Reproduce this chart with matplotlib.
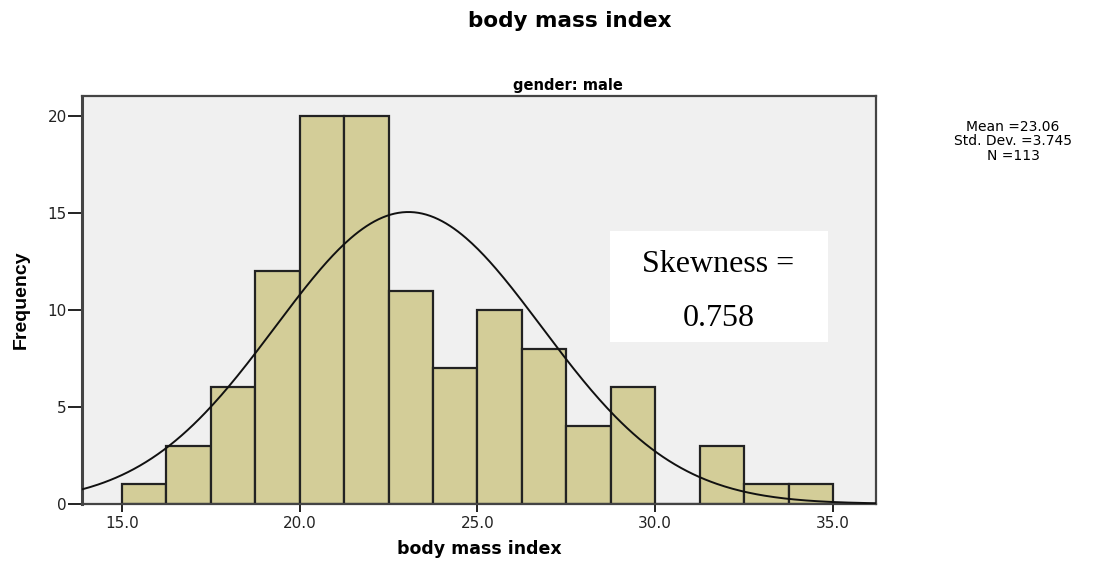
import numpy as np
import matplotlib
matplotlib.use("Agg")
import matplotlib.pyplot as plt
from matplotlib.patches import Rectangle

# histogram of BMI, males (SPSS style)
bin_edges = [15.0, 16.25, 17.5, 18.75, 20.0, 21.25, 22.5, 23.75, 25.0,
             26.25, 27.5, 28.75, 30.0, 31.25, 32.5, 33.75, 35.0]
counts = [1, 3, 6, 12, 20, 20, 11, 7, 10, 8, 4, 6, 0, 3, 1, 1]
x_ticks = [15.0, 20.0, 25.0, 30.0, 35.0]
y_ticks = [0, 5, 10, 15, 20]
mean_bmi = 23.06
sd_bmi = 3.745
n_obs = 113
skewness = 0.758

plt.rcParams["font.family"] = ["DejaVu Sans"]

fig = plt.figure(figsize=(10.94, 5.62), dpi=100)
ax = fig.add_axes([0.075, 0.1035, 0.7257, 0.7257])
ax.set_facecolor("#f0f0f0")

edges = np.array(bin_edges)
ax.bar(edges[:-1], counts, width=np.diff(edges), align="edge",
       color="#d3cd98", edgecolor="#222222", linewidth=1.6, zorder=2)

# normal curve scaled to counts
xlim = (13.88, 36.21)
xs = np.linspace(xlim[0], xlim[1], 400)
bw = edges[1] - edges[0]
ys = n_obs * bw / (sd_bmi * np.sqrt(2 * np.pi)) * np.exp(-0.5 * ((xs - mean_bmi) / sd_bmi) ** 2)
ax.plot(xs, ys, color="#111111", linewidth=1.4, zorder=3)

ax.set_xlim(*xlim)
ax.set_ylim(0, 21.03)
ax.set_xticks(x_ticks)
ax.set_xticklabels([f"{t:.1f}" for t in x_ticks])
ax.set_yticks(y_ticks)
ax.tick_params(axis="both", labelsize=11, width=1.4, color="#222222", labelcolor="#222222")
ax.tick_params(axis="x", length=6, pad=3)
ax.tick_params(axis="y", length=10, pad=1)
for s in ax.spines.values():
    s.set_color("#444444")
    s.set_linewidth(1.6)
ax.spines["left"].set_linewidth(2.2)

ax.set_xlabel("body mass index", fontsize=12.5, fontweight="bold")
ax.xaxis.set_label_coords(0.5, -0.088)
ax.set_ylabel("Frequency", fontsize=14, fontweight="bold", va="center",
              family=["Liberation Sans"])
ax.yaxis.set_label_coords(-0.076, 0.5)

fig.text(0.519, 0.848, "gender: male", ha="center", va="center",
         fontsize=10.5, fontweight="bold")
fig.text(0.521, 0.962, "body mass index", ha="center", va="center",
         fontsize=15.5, fontweight="bold")
fig.text(0.926, 0.749, f"Mean ={mean_bmi:.2f}\nStd. Dev. ={sd_bmi:.3f}\nN ={n_obs}",
         ha="center", va="center", fontsize=10, linespacing=1.05)

# skewness annotation box
ax.add_patch(Rectangle((0.665, 0.397), 0.2746, 0.272, transform=ax.transAxes,
                       facecolor="white", edgecolor="none", zorder=4))
ax.text(0.8016, 0.5686, "Skewness =", transform=ax.transAxes, ha="center", va="baseline",
        fontsize=23, family="Liberation Serif", zorder=5)
ax.text(0.8016, 0.436, f"{skewness:.3f}", transform=ax.transAxes, ha="center", va="baseline",
        fontsize=23, family="Liberation Serif", zorder=5)

fig.savefig("out.png", dpi=100)
